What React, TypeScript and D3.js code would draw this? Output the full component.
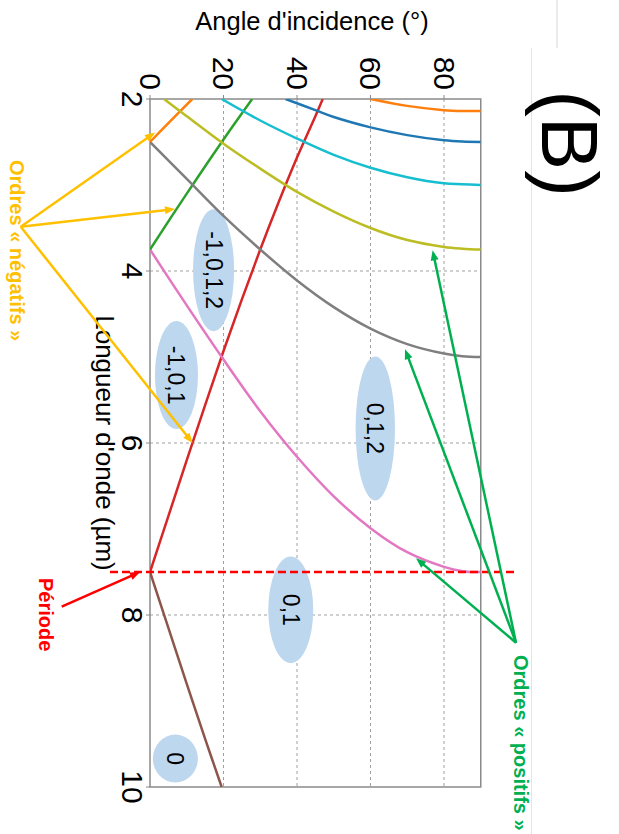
import React from "react";
import * as d3 from "d3";

// ---- data (angle in degrees, wavelength in µm) ----
const WAVELENGTH_TICKS = [2, 4, 6, 8, 10];
const ANGLE_TICKS = [0, 20, 40, 60, 80];
const PERIOD = 7.5;

const orderP1: [number, number][] = [[0, 7.5], [5, 8.15], [10, 8.8], [15, 9.44], [19.5, 10]];
const orderM1: [number, number][] = [[0, 7.5], [5, 6.85], [10, 6.2], [15, 5.56], [20, 4.93], [25, 4.33], [30, 3.75], [35, 3.2], [40, 2.68], [45, 2.2], [47, 2.0]];
const orderP2: [number, number][] = [[0, 3.75], [10, 4.4], [20, 5.03], [30, 5.63], [40, 6.16], [50, 6.62], [60, 6.99], [70, 7.27], [80, 7.44], [85, 7.49], [90, 7.5]];
const orderM2: [number, number][] = [[0, 3.75], [10, 3.1], [20, 2.47], [27.8, 2.0]];
const orderP3: [number, number][] = [[0, 2.5], [10, 2.93], [20, 3.36], [30, 3.75], [40, 4.11], [50, 4.42], [60, 4.67], [70, 4.85], [80, 4.96], [85, 4.99], [90, 5.0]];
const orderM3: [number, number][] = [[0, 2.5], [5, 2.28], [11.5, 2.0]];
const orderP4: [number, number][] = [[3.8, 2.0], [10, 2.2], [20, 2.52], [30, 2.81], [40, 3.08], [50, 3.31], [60, 3.5], [70, 3.64], [80, 3.72], [85, 3.74], [90, 3.75]];
const orderP5: [number, number][] = [[19.5, 2.0], [30, 2.25], [40, 2.46], [50, 2.65], [60, 2.8], [70, 2.91], [80, 2.98], [85, 2.99], [90, 3.0]];
const orderP6: [number, number][] = [[36.9, 2.0], [45, 2.13], [50, 2.21], [60, 2.33], [70, 2.42], [80, 2.48], [85, 2.495], [90, 2.5]];
const orderP7: [number, number][] = [[60, 2.0], [70, 2.08], [80, 2.13], [85, 2.14], [90, 2.14]];

const orders = [orderP1, orderM1, orderP2, orderM2, orderP3, orderM3, orderP4, orderP5, orderP6, orderP7];
const orderColors = ["#8c564b", "#d62728", "#e377c2", "#2ca02c", "#7f7f7f", "#ff7f0e", "#bcbd22", "#17becf", "#1f77b4", "#ff7f0e"];

const regionLabels = ["-1,0,1,2", "-1,0,1", "0,1,2", "0,1", "0"];
const regionAngles = [17.3, 7.2, 61.3, 38.3, 6.9];
const regionWavelengths = [3.99, 5.21, 5.83, 7.94, 9.67];

const negTargets: [number, number][] = [[1.36, 2.39], [6.8, 3.28], [11.6, 6.0]];
const posTargets: [number, number][] = [[76.9, 3.76], [69.4, 4.91], [72.4, 7.34]];
const periodTarget: [number, number] = [-2.7, PERIOD];

// ---- layout ----
const W = 619;
const H = 834;
const FONT = "'Liberation Sans', Arial, Helvetica, sans-serif";
const regionRx = [20.5, 21.5, 19.7, 22.5, 22.5];
const regionRy = [61, 54, 72, 53.3, 24];

const GOLD = "#FFC000";
const GREEN = "#00B050";
const RED = "#FF0000";

function Arrow({ from, to, color }: { from: [number, number]; to: [number, number]; color: string }) {
  const dx = to[0] - from[0];
  const dy = to[1] - from[1];
  const len = Math.hypot(dx, dy);
  const ux = dx / len;
  const uy = dy / len;
  const px = -uy;
  const py = ux;
  const headL = 10;
  const headW = 4;
  const bx = to[0] - ux * headL;
  const by = to[1] - uy * headL;
  const lx = to[0] - ux * 6;
  const ly = to[1] - uy * 6;
  return (
    <g>
      <line x1={from[0]} y1={from[1]} x2={lx} y2={ly} stroke={color} strokeWidth={2.5} />
      <polygon
        points={`${to[0]},${to[1]} ${bx + px * headW},${by + py * headW} ${bx - px * headW},${by - py * headW}`}
        fill={color}
      />
    </g>
  );
}

export default function App() {
  const ang = d3.scaleLinear().domain([0, 90]).range([150, 480.75]);
  const wl = d3.scaleLinear().domain([2, 10]).range([99, 787]);
  const x0 = ang(0);
  const x1 = ang(90);
  const y0 = wl(2);
  const y1 = wl(10);

  const line = d3
    .line<[number, number]>()
    .x((d) => ang(d[0]))
    .y((d) => wl(d[1]))
    .curve(d3.curveCatmullRom.alpha(0.5));

  const pt = (d: [number, number]): [number, number] => [ang(d[0]), wl(d[1])];

  const negOrigin: [number, number] = [20.7, 226.7];
  const posOrigin: [number, number] = [516, 642.7];
  const perOrigin: [number, number] = [61.7, 606.7];

  return (
    <svg width={W} height={H} style={{ position: "absolute", left: 0, top: 0, background: "#fff" }} fontFamily={FONT}>
      <defs>
        <clipPath id="plotclip">
          <rect x={x0} y={y0} width={x1 - x0} height={y1 - y0} />
        </clipPath>
      </defs>
      {/* faint panel borders */}
      <line x1={531.5} y1={48} x2={531.5} y2={H} stroke="#e4e4e4" strokeWidth={1} />
      <line x1={557} y1={0} x2={557} y2={48} stroke="#d8d8d8" strokeWidth={1} />

      {/* grid */}
      {ANGLE_TICKS.filter((t) => t > 0).map((t) => (
        <line key={"ga" + t} x1={ang(t)} x2={ang(t)} y1={y0} y2={y1} stroke="#a0a0a0" strokeWidth={1} strokeDasharray="3,3" />
      ))}
      {WAVELENGTH_TICKS.filter((t) => t > 2 && t < 10).map((t) => (
        <line key={"gw" + t} x1={x0} x2={x1} y1={wl(t)} y2={wl(t)} stroke="#a0a0a0" strokeWidth={1} strokeDasharray="3,3" />
      ))}

      {/* region ellipses */}
      {regionLabels.map((lab, i) => {
        const cx = ang(regionAngles[i]);
        const cy = wl(regionWavelengths[i]);
        return (
          <g key={"r" + i}>
            <ellipse cx={cx} cy={cy} rx={regionRx[i]} ry={regionRy[i]} fill="#BDD7EE" />
            <text
              transform={`translate(${cx},${cy}) rotate(90)`}
              textAnchor="middle"
              dy="0.35em"
              fontSize={23}
              fill="#000"
            >
              {lab}
            </text>
          </g>
        );
      })}

      {/* frame */}
      <rect x={x0} y={y0} width={x1 - x0} height={y1 - y0} fill="none" stroke="#8a8a8a" strokeWidth={1.5} />
      {ANGLE_TICKS.map((t) => (
        <line key={"ta" + t} x1={ang(t)} x2={ang(t)} y1={y0} y2={y0 - 4} stroke="#8a8a8a" strokeWidth={1} />
      ))}
      {WAVELENGTH_TICKS.map((t) => (
        <line key={"tw" + t} x1={x0} x2={x0 - 4} y1={wl(t)} y2={wl(t)} stroke="#8a8a8a" strokeWidth={1} />
      ))}

      {/* order curves */}
      <g clipPath="url(#plotclip)">
        {orders.map((o, i) => (
          <path key={"o" + i} d={line(o) || ""} fill="none" stroke={orderColors[i]} strokeWidth={2.5} />
        ))}
      </g>

      {/* period line */}
      <line x1={110} x2={516} y1={wl(PERIOD)} y2={wl(PERIOD)} stroke={RED} strokeWidth={2.5} strokeDasharray="8,4" />

      {/* tick labels */}
      {ANGLE_TICKS.map((t) => (
        <text key={"la" + t} transform={`translate(${ang(t)},90) rotate(90)`} textAnchor="end" dy="0.35em" fontSize={30} fill="#000">
          {t}
        </text>
      ))}
      {WAVELENGTH_TICKS.map((t) => (
        <text key={"lw" + t} transform={`translate(122,${wl(t)}) rotate(90)`} textAnchor="middle" fontSize={30} fill="#000">
          {t}
        </text>
      ))}

      {/* axis titles */}
      <text x={312} y={30} textAnchor="middle" fontSize={25.5} fill="#000">
        Angle d'incidence (°)
      </text>
      <text transform={`translate(96,${(y0 + y1) / 2}) rotate(90)`} textAnchor="middle" fontSize={26} fill="#000">
        Longueur d'onde (µm)
      </text>

      {/* panel label */}
      <text transform={`translate(542,143.5) rotate(90)`} textAnchor="middle" fontSize={80} fill="#000">
        (B)
      </text>

      {/* annotations */}
      {negTargets.map((t, i) => (
        <Arrow key={"na" + i} from={negOrigin} to={pt(t)} color={GOLD} />
      ))}
      {posTargets.map((t, i) => (
        <Arrow key={"pa" + i} from={posOrigin} to={pt(t)} color={GREEN} />
      ))}
      <Arrow from={perOrigin} to={pt(periodTarget)} color={RED} />

      <text transform={`translate(9.5,160) rotate(90)`} fontSize={20} fontWeight="bold" fill={GOLD}>
        Ordres « négatifs »
      </text>
      <text transform={`translate(514,655) rotate(90)`} fontSize={20} fontWeight="bold" fill={GREEN}>
        Ordres « positifs »
      </text>
      <text transform={`translate(39,578) rotate(90)`} fontSize={20} fontWeight="bold" fill={RED}>
        Période
      </text>
    </svg>
  );
}
